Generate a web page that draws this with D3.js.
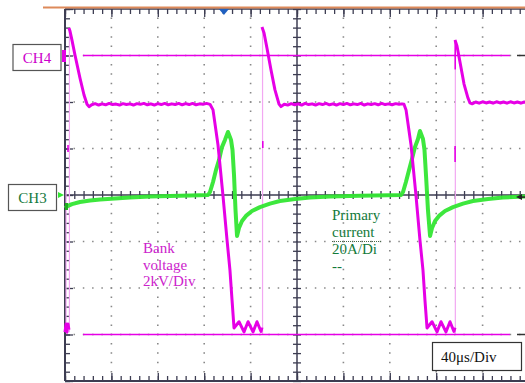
<!DOCTYPE html>
<html><head><meta charset="utf-8">
<script src="https://cdn.jsdelivr.net/npm/d3@7"></script>
<style>html,body{margin:0;padding:0;background:#fff;overflow:hidden}</style>
</head><body><svg id="c" width="525" height="383"></svg>
<script>
// ---------- DATA (time in µs, CH4 in kV, CH3 in A) ----------
const timeDivLabel = "40μs/Div";
const ch4Label = "CH4";
const ch3Label = "CH3";
const bankText = ["Bank", "voltage", "2kV/Div"];
const currentText = ["Primary", "current", "20A/Di", "--"];

const bankRing0 = [[0,-11.9],[0.9,-11.55],[1.7,-11.9],[2.6,-11.55],[3.4,-11.8]];
const bankPulse1 = [[3.4,1.18],[4.3,1.05],[6.0,0.66],[8.6,0.02],[12.9,-0.97],[16.4,-1.7],[19.0,-2.1],[20.7,-2.2],
 [23,-2.12],[26,-2.07],[29,-2.13],[32,-2.08],[35,-2.12],[38,-2.06],[41,-2.11],[44,-2.09],[47,-2.13],[50,-2.07],[53,-2.11],[56,-2.08],[59,-2.13],[62,-2.07],[65,-2.1],[68,-2.06],[71,-2.12],[74,-2.08],[77,-2.13],[80,-2.07],[83,-2.11],[86,-2.06],[89,-2.12],[92,-2.08],[95,-2.11],[98,-2.06],[101,-2.12],[104,-2.07],[107,-2.11],[110,-2.06],[113,-2.12],[116,-2.08],[119,-2.1],[122,-2.06],[125,-2.1],
 [127.6,-2.34],[131.9,-3.85],[136.2,-6.04],[139.7,-7.94],[142.2,-9.23],[144.0,-10.52],[145.7,-11.72],
 [150.0,-11.45],[154.3,-11.89],[157.8,-11.45],[162.1,-11.89],[165.5,-11.45],[169.0,-11.87],[169.8,-11.7]];
const bankPulse2 = [[169.8,1.23],[171.6,0.97],[174.1,0.32],[177.6,-0.62],[181.0,-1.48],[184.5,-2.09],[186.2,-2.2],
 [189,-2.1],[192,-2.13],[195,-2.07],[198,-2.12],[201,-2.08],[204,-2.13],[207,-2.06],[210,-2.11],[213,-2.08],[216,-2.13],[219,-2.07],[222,-2.11],[225,-2.06],[228,-2.12],[231,-2.08],[234,-2.13],[237,-2.07],[240,-2.11],[243,-2.06],[246,-2.12],[249,-2.08],[252,-2.11],[255,-2.06],[258,-2.13],[261,-2.08],[264,-2.11],[267,-2.07],[270,-2.12],[273,-2.06],[276,-2.11],[279,-2.08],[282,-2.12],[285,-2.07],[288,-2.1],[290.5,-2.08],
 [292.2,-2.1],[294.0,-2.34],[298.3,-3.85],[302.6,-6.04],[306.0,-7.94],[308.6,-9.23],[310.3,-10.52],[312.1,-11.72],
 [316.4,-11.45],[320.7,-11.89],[324.1,-11.45],[328.4,-11.89],[331.9,-11.45],[335.3,-11.87],[336.2,-11.7]];
const bankPulse3 = [[336.2,0.67],[337.9,0.41],[340.5,-0.28],[344.0,-1.23],[347.4,-1.83],[349.1,-2.04],[351,-2.08],
 [354,-2.0],[357,-2.05],[360,-1.99],[363,-2.04],[366,-2.0],[369,-2.05],[372,-1.99],[375,-2.04],[378,-2.0],[381,-2.05],[384,-1.99],[387,-2.04],[390,-2.0],[393,-2.05],[396,-2.0],[398,-2.03]];
// fast edges drawn faint: [t, vTop, vBottom]
const bankEdges = [[0.9,-5.8,-11.9],[3.8,1.18,-11.9],[170.3,1.23,-12.0],[336.5,0.67,-12.0]];
// brighter short segments on the edges: [t, v1, v2]
const bankMarks = [[2.6,-3.85,-4.15],[170.5,-3.68,-3.98],[336.3,-3.89,-4.58],[336.4,0.67,-0.6]];
// cursor levels (kV) and their time span (µs)
const bankCursors = [0, -12];
const cursorSpan = [15.5, 383.6];

const currentTrace = [[0,-5.6],[2.6,-4.7],[6.0,-3.9],[12.9,-3.0],[21.6,-2.4],[30.2,-1.9],[43.1,-1.5],[56.0,-1.1],[73.3,-0.6],[90.5,-0.4],[107.8,-0.2],[123.3,0],
 [125.0,1.3],[127.6,5.6],[130.2,10.8],[132.8,15.1],[135.3,20.6],[137.9,23.7],[140.5,27.1],[143.1,23.7],[144.4,19.4],[145.7,8.6],[147.0,-6.5],[148.3,-17.6],
 [150.0,-14.2],[152.6,-11.2],[156.0,-9.0],[161.2,-6.9],[168.1,-5.2],[176.7,-3.7],[185.3,-2.6],[198.3,-1.7],[211.2,-1.1],[228.4,-0.6],[254.3,-0.3],[289.7,0],
 [291.4,1.3],[293.9,5.6],[296.6,10.8],[299.1,15.5],[301.7,20.6],[304.3,24.1],[306.0,27.5],[308.6,24.1],[309.9,19.4],[311.2,8.6],[312.9,-6.5],[314.7,-17.6],
 [316.4,-14.2],[319.0,-11.2],[322.4,-9.0],[327.6,-6.9],[334.5,-5.2],[343.1,-3.7],[351.7,-2.6],[364.7,-1.7],[377.6,-1.1],[396.6,-0.6]];
const triggerTime = 137;

// ---------- SCALES ----------
const svg = d3.select("#c");
const x = d3.scaleLinear().domain([0, 400]).range([65, 529]);
const yDiv = d3.scaleLinear().domain([-4, 4]).range([381, 9]);
const yV = d3.scaleLinear().domain([-14, 2]).range([381, 9]);   // CH4: 2 kV/div, ground at +3 div
const yA = d3.scaleLinear().domain([-80, 80]).range([381, 9]);  // CH3: 20 A/div, ground at 0
const xDiv = d3.scaleLinear().domain([0, 10]).range([65, 529]);

const axisCol = "#3d3d52";
const mag = "#e600e6";
const grn = "#33e633";

// ---------- GRATICULE ----------
const g = svg.append("g");
[1,2,3,4,6,7,8,9].forEach(d => {
  g.append("line").attr("x1", xDiv(d)).attr("x2", xDiv(d)).attr("y1", 9).attr("y2", 381)
   .attr("stroke", "#888").attr("stroke-width", 1.6).attr("stroke-dasharray", "1.5 7.8").attr("stroke-dashoffset", 0.75 - 9.3);
});
[-3,-2,-1,1,2,3].forEach(d => {
  g.append("line").attr("x1", 65).attr("x2", 525).attr("y1", yDiv(d)).attr("y2", yDiv(d))
   .attr("stroke", "#888").attr("stroke-width", 1.6).attr("stroke-dasharray", "1.5 7.78").attr("stroke-dashoffset", 0.75 - 9.28);
});
const minorX = d3.range(0, 10.001, 0.2);
const minorY = d3.range(-4, 4.001, 0.2);
const majorX = d3.range(0, 11, 1);
const majorY = d3.range(-4, 5, 1);
function ax(axisFn, scale, vals, size, tx, ty) {
  const a = g.append("g").attr("transform", `translate(${tx},${ty})`)
    .call(axisFn(scale).tickValues(vals).tickSize(size).tickFormat(""));
  a.select(".domain").remove();
  a.selectAll("line").attr("stroke", axisCol).attr("stroke-width", 1.3);
}
ax(d3.axisRight, yDiv, minorY, 5, 65, 0);
ax(d3.axisRight, yDiv, majorY, 8, 65, 0);
ax(d3.axisBottom, xDiv, minorX, 5, 0, 9);
ax(d3.axisBottom, xDiv, majorX, 8, 0, 9);
ax(d3.axisTop, xDiv, minorX, 5, 0, 381);
ax(d3.axisTop, xDiv, majorX, 8, 0, 381);
ax(d3.axisLeft, yDiv, minorY, 4, xDiv(5), 0);
ax(d3.axisRight, yDiv, minorY, 4, xDiv(5), 0);
ax(d3.axisTop, xDiv, minorX, 4, 0, yDiv(0));
ax(d3.axisBottom, xDiv, minorX, 4, 0, yDiv(0));
g.append("line").attr("x1", 65).attr("x2", 65).attr("y1", 9).attr("y2", 381).attr("stroke", axisCol).attr("stroke-width", 2);
g.append("line").attr("x1", 65).attr("x2", 525).attr("y1", 381).attr("y2", 381).attr("stroke", axisCol).attr("stroke-width", 2);
g.append("line").attr("x1", 65).attr("x2", 525).attr("y1", 9).attr("y2", 9).attr("stroke", axisCol).attr("stroke-width", 1.5);
g.append("line").attr("x1", xDiv(5)).attr("x2", xDiv(5)).attr("y1", 9).attr("y2", 381).attr("stroke", axisCol).attr("stroke-width", 1.5);
g.append("line").attr("x1", 65).attr("x2", 525).attr("y1", yDiv(0)).attr("y2", yDiv(0)).attr("stroke", axisCol).attr("stroke-width", 1.5);
svg.append("line").attr("x1", 43).attr("x2", 525).attr("y1", 7.5).attr("y2", 7.5).attr("stroke", "#dd8a5a").attr("stroke-width", 2);
const tx0 = x(triggerTime);
svg.append("path").attr("d", `M${tx0-5},9 L${tx0+5},9 L${tx0},15 Z`).attr("fill", "#2060c0");

// ---------- TRACES ----------
const lineV = d3.line().x(d => x(d[0])).y(d => yV(d[1]));
const lineA = d3.line().x(d => x(d[0])).y(d => yA(d[1]));

bankEdges.forEach(e => {
  svg.append("line").attr("x1", x(e[0])).attr("x2", x(e[0])).attr("y1", yV(e[1])).attr("y2", yV(e[2]))
    .attr("stroke", "#f2a8f2").attr("stroke-width", 1.2);
});
bankCursors.forEach(v => {
  svg.append("line").attr("x1", x(cursorSpan[0])).attr("x2", x(cursorSpan[1])).attr("y1", yV(v)).attr("y2", yV(v))
    .attr("stroke", mag).attr("stroke-width", 1.6);
});
svg.append("path").datum(currentTrace).attr("d", lineA).attr("fill", "none")
  .attr("stroke", grn).attr("stroke-width", 4).attr("stroke-linejoin", "round").attr("opacity", 0.95);
[bankRing0, bankPulse1, bankPulse2, bankPulse3].forEach(s => {
  svg.append("path").datum(s).attr("d", lineV).attr("fill", "none")
    .attr("stroke", mag).attr("stroke-width", 3).attr("stroke-linejoin", "round");
});
bankMarks.forEach(m => {
  svg.append("line").attr("x1", x(m[0])).attr("x2", x(m[0])).attr("y1", yV(m[1])).attr("y2", yV(m[2]))
    .attr("stroke", mag).attr("stroke-width", 1.6);
});

// ---------- LABELS ----------
const serif = "'Liberation Serif', 'Times New Roman', serif";
svg.append("rect").attr("x", 13).attr("y", 44.5).attr("width", 48).attr("height", 26).attr("fill", "#fff").attr("stroke", "#555").attr("stroke-width", 1.2);
svg.append("text").attr("x", 37).attr("y", 62.5).attr("text-anchor", "middle").attr("font-family", serif).attr("font-size", 15).attr("fill", "#cc00cc").text(ch4Label);
svg.append("rect").attr("x", 62).attr("y", 50).attr("width", 4).attr("height", 12).attr("fill", mag);
svg.append("rect").attr("x", 8.5).attr("y", 184.5).attr("width", 48).attr("height", 26).attr("fill", "#fff").attr("stroke", "#555").attr("stroke-width", 1.2);
svg.append("text").attr("x", 32.5).attr("y", 202.5).attr("text-anchor", "middle").attr("font-family", serif).attr("font-size", 15).attr("fill", "#157a40").text(ch3Label);
svg.append("path").attr("d", `M58,${yA(0)-3} L64,${yA(0)} L58,${yA(0)+3} Z`).attr("fill", grn);
svg.append("rect").attr("x", 65).attr("y", 203).attr("width", 3).attr("height", 7).attr("fill", "#22aa22");
svg.append("line").attr("x1", 517).attr("x2", 525).attr("y1", yV(0)).attr("y2", yV(0)).attr("stroke", "#333").attr("stroke-width", 1.5);
svg.append("line").attr("x1", 517).attr("x2", 525).attr("y1", yV(-12)).attr("y2", yV(-12)).attr("stroke", "#333").attr("stroke-width", 1.5);
svg.append("path").attr("d", `M516,${yA(-0.9)} L522,${yA(-0.9)-3} L522,${yA(-0.9)+3} Z`).attr("fill", "#222");
svg.append("line").attr("x1", 520).attr("x2", 525).attr("y1", yA(-0.9)).attr("y2", yA(-0.9)).attr("stroke", "#222").attr("stroke-width", 1.5);

bankText.forEach((t, i) => {
  svg.append("text").attr("x", 143).attr("y", 253 + i * 16.5).attr("font-family", serif).attr("font-size", 15).attr("fill", "#cc22cc").text(t);
});
currentText.forEach((t, i) => {
  svg.append("text").attr("x", 332).attr("y", 220 + i * 17).attr("font-family", serif).attr("font-size", 15).attr("fill", "#137a3a").text(t);
});
svg.append("line").attr("x1", 332).attr("x2", 381).attr("y1", 241.5).attr("y2", 241.5).attr("stroke", "#4a6a4a").attr("stroke-width", 1).attr("stroke-dasharray", "1 1");

svg.append("rect").attr("x", 432.5).attr("y", 342.5).attr("width", 89).attr("height", 28).attr("fill", "#fff").attr("stroke", "#333").attr("stroke-width", 1.2);
svg.append("text").attr("x", 441).attr("y", 362).attr("font-family", serif).attr("font-size", 15).attr("fill", "#111").text(timeDivLabel);
</script></body></html>
